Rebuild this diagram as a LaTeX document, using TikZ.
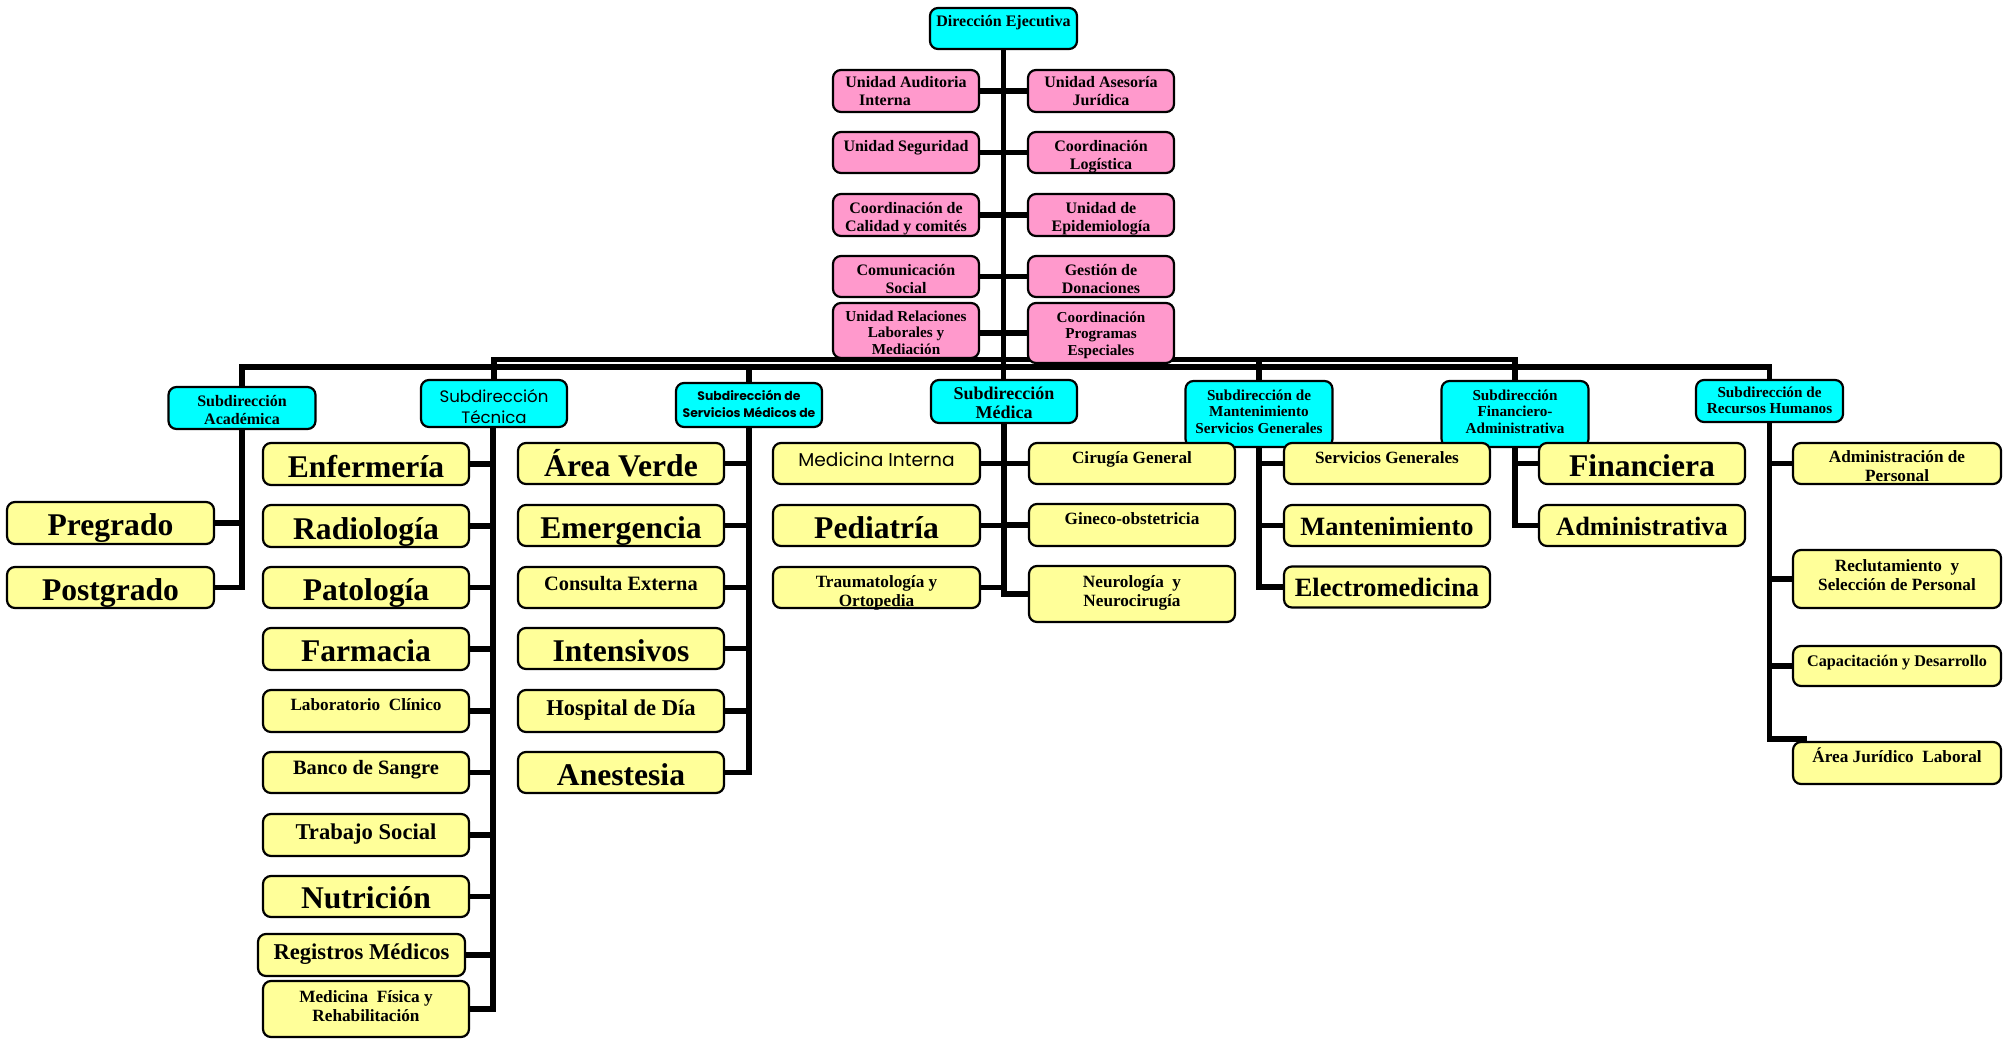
\documentclass[tikz,border=0pt]{standalone}
\usepackage{fontspec}
\setmainfont{Liberation Serif}
\newfontfamily\popp{Poppins}
\definecolor{pinkc}{HTML}{FF99CC}
\definecolor{yelc}{HTML}{FFFF99}
\definecolor{cyanc}{HTML}{00FFFF}
\pgfdeclarelayer{bg}
\pgfsetlayers{bg,main}
% #1 style, #2 name, #3 x, #4 y, #5 width px, #6 height px, #7 first baseline from top px, #8 text
\newcommand\bx[8]{\node[#1] (#2) at (#3,#4) {\parbox[c][\dimexpr #6pt/2\relax][t]{\dimexpr #5pt/2\relax}{\vspace*{\dimexpr #7pt/2-1em\relax}\centering\rule{0pt}{1em}#8}};}
\tikzset{
  box/.style={draw=black, line width=1.1pt, rounded corners=4pt, inner sep=0pt, outer sep=0pt},
  cyanbox/.style={box, fill=cyanc},
  pinkbox/.style={box, fill=pinkc},
  yelbox/.style={box, fill=yelc},
  conn/.style={line width=2.8pt, draw=black},
  fs/.style={font=\fontsize{8}{9}\selectfont\bfseries},
  fss/.style={font=\fontsize{7.6}{8.3}\selectfont\bfseries},
  fmed/.style={font=\fontsize{9}{9.5}\selectfont\bfseries},
  fsy/.style={font=\fontsize{8.6}{9.8}\selectfont\bfseries},
  fcap/.style={font=\fontsize{8.1}{9.8}\selectfont\bfseries},
  fmid/.style={font=\fontsize{10.2}{12}\selectfont\bfseries},
  fmid2/.style={font=\fontsize{11.3}{13}\selectfont\bfseries},
  fmb/.style={font=\fontsize{13.2}{15}\selectfont\bfseries},
  fbig/.style={font=\fontsize{15.8}{18}\selectfont\bfseries},
  fsans/.style={font=\popp\fontsize{8.3}{10.8}\selectfont},
  fsansb/.style={font=\popp\bfseries\fontsize{6.2}{8.8}\selectfont},
  fsansm/.style={font=\popp\fontsize{9.3}{10}\selectfont},
}
\begin{document}
\begin{tikzpicture}[x=0.5pt,y=-0.5pt]
\useasboundingbox (0,0) rectangle (2011,1038);
\begin{pgfonlayer}{bg}
\fill[white] (0,0) rectangle (2011,1038);
\end{pgfonlayer}
% top
\bx{cyanbox,fs}{dir}{1003.5}{28.5}{147}{41}{19}{Dirección Ejecutiva}
\bx{pinkbox,fs}{p1l}{906}{91}{146}{42}{18}{Unidad Auditoria\\\hspace*{-21pt}Interna}
\bx{pinkbox,fs}{p1r}{1101}{91}{146}{42}{18}{Unidad Asesoría\\Jurídica}
\bx{pinkbox,fs}{p2l}{906}{152.5}{146}{41}{19}{Unidad Seguridad}
\bx{pinkbox,fs}{p2r}{1101}{152.5}{146}{41}{19}{Coordinación\\Logística}
\bx{pinkbox,fs}{p3l}{906}{215}{146}{42}{19}{Coordinación de\\Calidad y comités}
\bx{pinkbox,fs}{p3r}{1101}{215}{146}{42}{19}{Unidad de\\Epidemiología}
\bx{pinkbox,fs}{p4l}{906}{276.5}{146}{41}{19}{Comunicación\\Social}
\bx{pinkbox,fs}{p4r}{1101}{276.5}{146}{41}{19}{Gestión de\\Donaciones}
\bx{pinkbox,fss}{p5l}{906}{330.5}{146}{55}{18}{Unidad Relaciones\\Laborales y\\Mediación}
\bx{pinkbox,fss}{p5r}{1101}{333}{146}{60}{19}{Coordinación\\Programas\\Especiales}
% headers
\bx{cyanbox,fs}{acad}{242}{408}{147}{42}{19}{Subdirección\\Académica}
\bx{cyanbox,fsans}{tec}{494}{403.5}{146}{47}{22}{Subdirección\\Técnica}
\bx{cyanbox,fsansb}{svm}{749}{405}{146}{44}{17}{Subdirección de\\Servicios Médicos de}
\bx{cyanbox,fmed}{med}{1004}{401.5}{146}{43}{19}{Subdirección\\Médica}
\bx{cyanbox,fss}{mant}{1259}{414}{147}{66}{19}{Subdirección de\\Mantenimiento\\Servicios Generales}
\bx{cyanbox,fss}{fin}{1515}{414}{147}{66}{19}{Subdirección\\Financiero-\\Administrativa}
\bx{cyanbox,fss}{rrhh}{1769.5}{401}{147}{42}{17}{Subdirección de\\Recursos Humanos}
% Academica
\bx{yelbox,fbig}{preg}{110.5}{523}{207}{42}{33}{Pregrado}
\bx{yelbox,fbig}{postg}{110.5}{587.5}{207}{41}{33}{Postgrado}
% Tecnica
\bx{yelbox,fbig}{enf}{366}{464}{206}{42}{34}{Enfermería}
\bx{yelbox,fbig}{rad}{366}{526}{206}{42}{34}{Radiología}
\bx{yelbox,fbig}{pat}{366}{587.5}{206}{41}{33}{Patología}
\bx{yelbox,fbig}{far}{366}{649}{206}{42}{33}{Farmacia}
\bx{yelbox,fsy}{lab}{366}{711}{206}{42}{20}{Laboratorio~~Clínico}
\bx{yelbox,fmid}{banco}{366}{772.5}{206}{41}{22}{Banco de Sangre}
\bx{yelbox,fmid2}{trab}{366}{835}{206}{42}{25}{Trabajo Social}
\bx{yelbox,fbig}{nut}{366}{896.5}{206}{41}{32}{Nutrición}
\bx{yelbox,fmid2}{reg}{361.5}{955}{207}{42}{25}{Registros Médicos}
\bx{yelbox,fsy}{medfis}{366}{1009}{206}{56}{21}{Medicina~~Física y\\Rehabilitación}
% Servicios medicos
\bx{yelbox,fbig}{av}{621}{463.5}{206}{41}{33}{Área Verde}
\bx{yelbox,fbig}{emer}{621}{525.5}{206}{41}{33}{Emergencia}
\bx{yelbox,fmid}{cons}{621}{587.5}{206}{41}{23}{Consulta Externa}
\bx{yelbox,fbig}{inten}{621}{648.5}{206}{41}{33}{Intensivos}
\bx{yelbox,fmid2}{hosp}{621}{711}{206}{42}{25}{Hospital de Día}
\bx{yelbox,fbig}{anes}{621}{772.5}{206}{41}{33}{Anestesia}
% Medica
\bx{yelbox,fsansm}{mint}{876.5}{463.5}{207}{41}{23}{Medicina Interna}
\bx{yelbox,fbig}{ped}{876.5}{525.5}{207}{41}{33}{Pediatría}
\bx{yelbox,fsy}{trau}{876.5}{587.5}{207}{41}{20}{Traumatología y\\Ortopedia}
\bx{yelbox,fsy}{cir}{1132}{463.5}{206}{41}{20}{Cirugía General}
\bx{yelbox,fsy}{gin}{1132}{525}{206}{42}{20}{Gineco-obstetricia}
\bx{yelbox,fsy}{neu}{1132}{594}{206}{56}{21}{Neurología~~y\\Neurocirugía}
% Mantenimiento
\bx{yelbox,fsy}{sg}{1387}{463.5}{206}{41}{20}{Servicios Generales}
\bx{yelbox,fmb}{mant2}{1387}{525.5}{206}{41}{30}{Mantenimiento}
\bx{yelbox,fmb}{elec}{1387}{587}{206}{41}{30}{Electromedicina}
% Financiero
\bx{yelbox,fbig}{finan}{1642}{463.5}{206}{41}{33}{Financiera}
\bx{yelbox,fmb}{adm}{1642}{525.5}{206}{41}{30}{Administrativa}
% RRHH
\bx{yelbox,fsy}{adp}{1897}{463.5}{208}{41}{19}{Administración de\\Personal}
\bx{yelbox,fsy}{rec}{1897}{579}{208}{58}{21}{Reclutamiento~~y\\Selección de Personal}
\bx{yelbox,fcap}{cap}{1897}{666}{208}{40}{20}{Capacitación y Desarrollo}
\bx{yelbox,fsy}{aj}{1897}{763}{208}{42}{20}{Área Jurídico~~Laboral}
\coordinate (barU) at (1004,359.5);
\coordinate (barL) at (1004,367);
\coordinate (ajc) at (1807,739);
\begin{pgfonlayer}{bg}
% trunk and pink connectors
\draw[conn] (dir.south) -- (dir.south |- med.north);
\draw[conn] (p1l.east) -- (p1r.west);
\draw[conn] (p2l.east) -- (p2r.west);
\draw[conn] (p3l.east) -- (p3r.west);
\draw[conn] (p4l.east) -- (p4r.west);
\draw[conn] (p5l.east |- p5r.west) -- (p5r.west);
% bars
\draw[conn] (tec.north) -- (tec.north |- barU) -- (fin.north |- barU) -- (fin.north);
\draw[conn] (mant.north) -- (mant.north |- barU);
\draw[conn] (acad.north) -- (acad.north |- barL) -- (rrhh.north |- barL) -- (rrhh.north);
\draw[conn] (svm.north) -- (svm.north |- barL);
% Academica
\draw[conn] (acad.south) |- (preg.east);
\draw[conn] (acad.south) |- (postg.east);
% Tecnica
\foreach \n in {enf,rad,pat,far,lab,banco,trab,nut,reg,medfis}
  \draw[conn] ([xshift=-0.5pt]tec.south) |- (\n.east);
% Servicios medicos
\foreach \n in {av,emer,cons,inten,hosp,anes}
  \draw[conn] (svm.south) |- (\n.east);
% Medica
\foreach \n in {mint,ped,trau}
  \draw[conn] (med.south) |- (\n.east);
\foreach \n in {cir,gin,neu}
  \draw[conn] (med.south) |- (\n.west);
% Mantenimiento
\foreach \n in {sg,mant2,elec}
  \draw[conn] (mant.south) |- (\n.west);
% Financiero
\foreach \n in {finan,adm}
  \draw[conn] (fin.south) |- (\n.west);
% RRHH
\foreach \n in {adp,rec,cap}
  \draw[conn] (rrhh.south) |- (\n.west);
\draw[conn] (rrhh.south) |- (ajc);
\end{pgfonlayer}
\end{tikzpicture}
\end{document}
